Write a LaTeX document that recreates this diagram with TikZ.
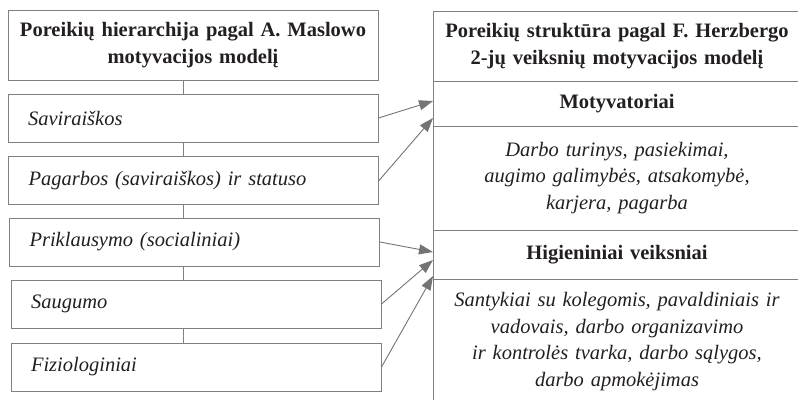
\documentclass[tikz,border=0pt]{standalone}
\usepackage{fontspec}
\setmainfont{Liberation Serif}
\usetikzlibrary{arrows.meta}
\definecolor{frame}{HTML}{808080}
\definecolor{ink}{HTML}{231F20}
\definecolor{arrowgray}{HTML}{747474}
\newcommand{\txtsize}{\fontsize{20.5}{26.5}\selectfont}
\begin{document}
\begin{tikzpicture}[x=1pt,y=-1pt,
  every node/.style={text=ink,font=\txtsize},
  headbox/.style={draw=frame,line width=1pt,inner sep=0pt,minimum width=370pt,
    minimum height=70pt,text width=366pt,align=center,font=\txtsize\bfseries},
  levelbox/.style={draw=frame,line width=1pt,inner xsep=20pt,inner ysep=0pt,
    minimum height=48pt,text width=330pt,align=left,font=\txtsize\itshape},
  cell/.style={inner sep=0pt,text width=364pt,align=center},
  cellhead/.style={cell,font=\txtsize\bfseries},
  cellbody/.style={cell,font=\txtsize\itshape},
  rule/.style={draw=frame,line width=1pt},
  link/.style={draw=frame,line width=1pt},
  arr/.style={draw=arrowgray,line width=0.9pt,-{Triangle[length=14pt,width=10pt]}}
]
\useasboundingbox (0,0) rectangle (798,400);

% Maslow hierarchy (left column)
\node[headbox] (mtitle) at (193,45) {Poreikių hierarchija pagal A. Maslowo\\motyvacijos modelį};
\node[levelbox] (sav)  at (193,118)   {Saviraiškos};
\node[levelbox] (pag)  at (193.5,180.5) {Pagarbos (saviraiškos) ir statuso};
\node[levelbox] (prik) at (194.5,242) {Priklausymo (socialiniai)};
\node[levelbox] (saug) at (196,304)   {Saugumo};
\node[levelbox] (fiz)  at (196,367)   {Fiziologiniai};

% vertical spine joining the levels
\coordinate (spine) at (183,0);
\draw[link] (mtitle.south -| spine) -- (sav.north -| spine);
\draw[link] (sav.south -| spine) -- (pag.north -| spine);
\draw[link] (pag.south -| spine) -- (prik.north -| spine);
\draw[link] (prik.south -| spine) -- (saug.north -| spine);
\draw[link] (saug.south -| spine) -- (fiz.north -| spine);

% Herzberg two-factor table (right column)
\coordinate (tl) at (433,11);
\coordinate (bl) at (433,400);
\draw[rule] (tl) -- (bl);
\foreach \yy in {11,81,126,230,279}
  \draw[rule] (433,\yy) -- (798,\yy);

\node[cellhead] (htitle) at (617,46)  {Poreikių struktūra pagal F. Herzbergo\\2-jų veiksnių motyvacijos modelį};
\node[cellhead] (mot)    at (617,103.5) {Motyvatoriai};
\node[cellbody] (motb)   at (617,178) {Darbo turinys, pasiekimai,\\augimo galimybės, atsakomybė,\\karjera, pagarba};
\node[cellhead] (hig)    at (617,254.5) {Higieniniai veiksniai};
\node[cellbody] (higb)   at (617,341.5) {Santykiai su kolegomis, pavaldiniais ir\\vadovais, darbo organizavimo\\ir kontrolės tvarka, darbo sąlygos,\\darbo apmokėjimas};

% arrow targets on the table's left border
\coordinate (t1) at (433,101);
\coordinate (t2) at (433,118);
\coordinate (t3) at (433,252);
\coordinate (t4) at (433,260);
\coordinate (t5) at (433,276);

\draw[arr] (sav.east)  -- (t1);
\draw[arr] (pag.east)  -- (t2);
\draw[arr] (prik.east) -- (t3);
\draw[arr] (saug.east) -- (t4);
\draw[arr] (fiz.east)  -- (t5);
\end{tikzpicture}
\end{document}
